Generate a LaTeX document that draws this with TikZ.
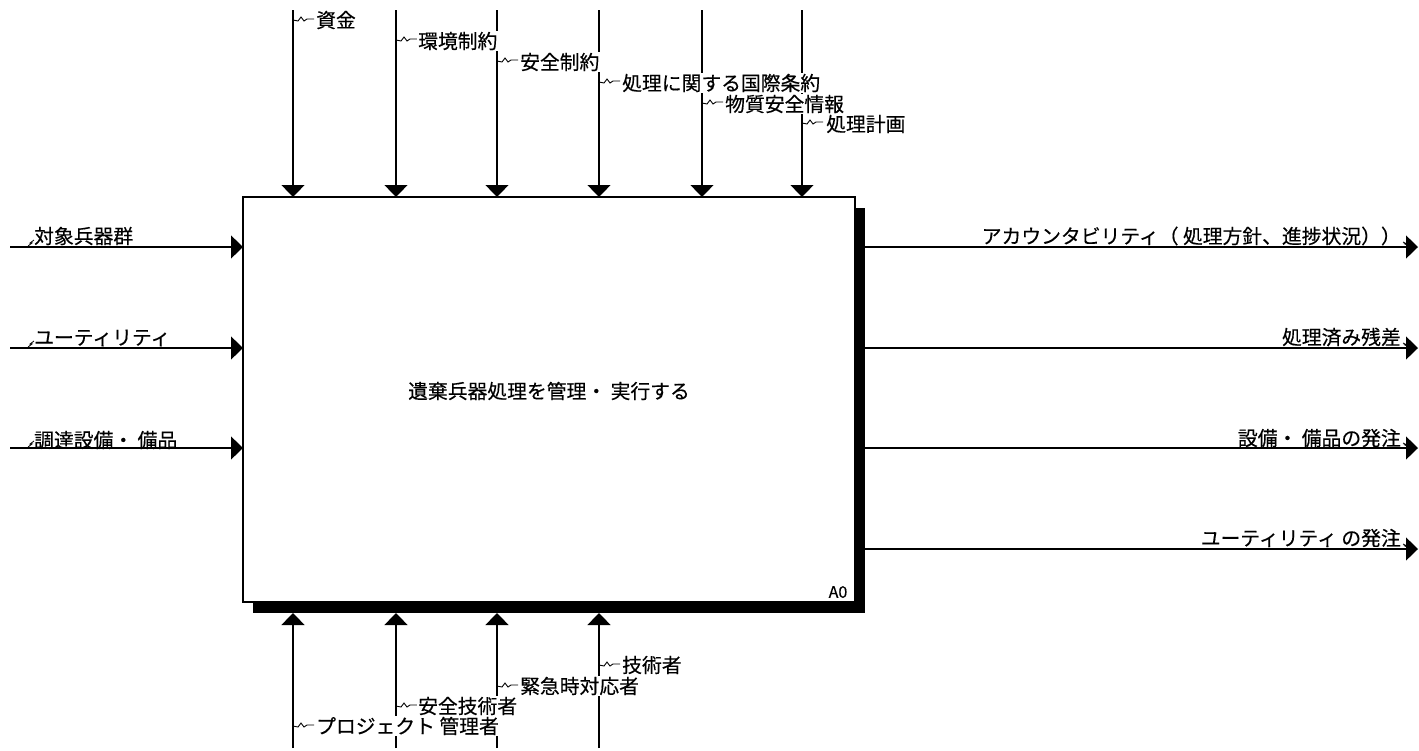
\documentclass[tikz,border=0pt]{standalone}
\usepackage{fontspec}
\setmainfont{Noto Sans CJK JP}
\newfontfamily\lblfont{Noto Sans CJK JP}[FakeBold=0.35]
\usetikzlibrary{arrows.meta}
\begin{document}
\begin{tikzpicture}[x=1pt,y=-1pt,
  txt/.style={font=\lblfont\fontsize{19.8}{22}\selectfont, inner sep=1pt},
  lbl/.style={txt, fill=white, anchor=west},
  inl/.style={txt, anchor=west},
  outl/.style={txt, anchor=east},
  arr/.style={line width=1.2pt, -{Triangle[length=12pt,width=23pt]}},
  squig/.pic={\draw[line width=0.9pt] (0,0) -- (5,1) -- (8,-3) -- (11,1) -- (14,-1) -- (21,-1);},
  insq/.pic={\draw[line width=0.8pt] (0,0) -- (4,-3) -- (2,-3) -- (6,-6);},
  outsq/.pic={\draw[line width=0.8pt] (0,0) -- (4,2) -- (2,2) -- (6,4);}
]
\useasboundingbox (0,0) rectangle (1419,750);
% shadow and box
\node[fill=black, minimum width=612pt, minimum height=405pt, inner sep=0pt, outer sep=0pt, anchor=north west] (shadow) at (253,208) {};
\node[draw, line width=1.2pt, fill=white, minimum width=612pt, minimum height=405pt, inner sep=0pt, outer sep=0pt, anchor=north west] (A0) at (243,197) {};
\node[txt] (title) at (549,391) {遺棄兵器処理を管理・ 実行する};
\node[font=\lblfont\fontsize{16}{17}\selectfont, inner sep=0pt] (a0) at (838,592) {A0};

% controls
\coordinate (c1) at (293,10);
\coordinate (c2) at (396,10);
\coordinate (c3) at (497,10);
\coordinate (c4) at (599,10);
\coordinate (c5) at (702,10);
\coordinate (c6) at (802,10);
\foreach \c in {c1,c2,c3,c4,c5,c6} \draw[arr] (\c) -- (\c |- A0.north);

% mechanisms
\coordinate (m1) at (293,748);
\coordinate (m2) at (396,748);
\coordinate (m3) at (497,748);
\coordinate (m4) at (599,748);
\foreach \m in {m1,m2,m3,m4} \draw[arr] (\m) -- (\m |- shadow.south);

% inputs
\coordinate (i1) at (10,247);
\coordinate (i2) at (10,348);
\coordinate (i3) at (10,448);
\foreach \i in {i1,i2,i3} \draw[arr] (\i) -- (\i -| A0.west);

% outputs
\coordinate (o1) at (1418,247);
\coordinate (o2) at (1418,348);
\coordinate (o3) at (1418,448);
\coordinate (o4) at (1418,549);
\foreach \o in {o1,o2,o3,o4} \draw[arr] (\o -| shadow.east) -- (\o);

% control labels
\pic at (293,20) {squig};
\node[lbl] (l1) at (315,20) {資金};
\pic at (396,40) {squig};
\node[lbl] (l2) at (417,41) {環境制約};
\pic at (497,61) {squig};
\node[lbl] (l3) at (519,62) {安全制約};
\pic at (599,82) {squig};
\node[lbl] (l4) at (621,83) {処理に関する国際条約};
\pic at (702,103) {squig};
\node[lbl] (l5) at (724,104) {物質安全情報};
\pic at (802,123) {squig};
\node[lbl] (l6) at (825,124) {処理計画};

% mechanism labels
\pic at (599,665) {squig};
\node[lbl] (b4) at (621,665) {技術者};
\pic at (497,686) {squig};
\node[lbl] (b3) at (519,686) {緊急時対応者};
\pic at (396,706) {squig};
\node[lbl] (b2) at (417,706) {安全技術者};
\pic at (293,726) {squig};
\node[lbl] (b1) at (315,726) {プロジェクト 管理者};

% input labels
\pic at (28,246) {insq};
\node[inl] (n1) at (33,236) {対象兵器群};
\pic at (28,347) {insq};
\node[inl] (n2) at (33,338) {ユーティリティ};
\pic at (28,447) {insq};
\node[inl] (n3) at (33,440) {調達設備・ 備品};

% output labels
\node[outl] (p1) at (1402,236) {アカウンタビリティ（ 処理方針、進捗状況））};
\pic at (1403,242) {outsq};
\node[outl] (p2) at (1402,337) {処理済み残差};
\pic at (1403,343) {outsq};
\node[outl] (p3) at (1402,438) {設備・ 備品の発注};
\pic at (1403,443) {outsq};
\node[outl] (p4) at (1402,538) {ユーティリティ の発注};
\pic at (1403,544) {outsq};
\end{tikzpicture}
\end{document}
